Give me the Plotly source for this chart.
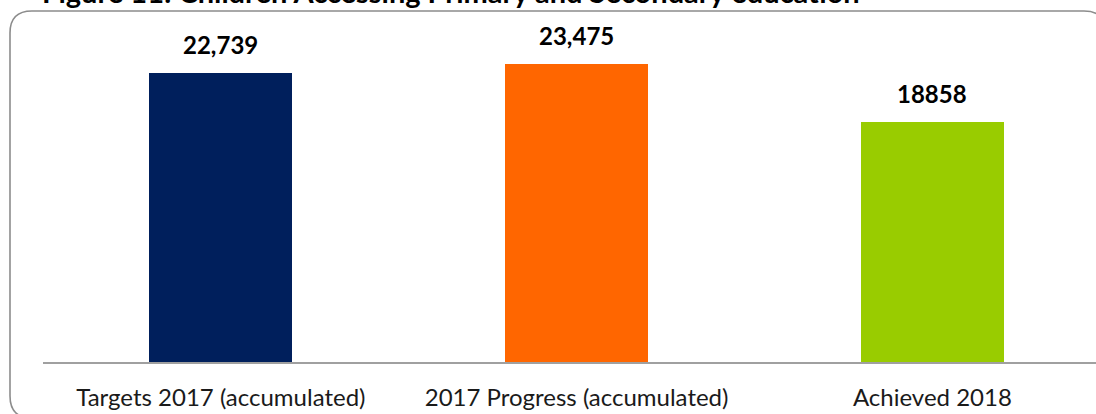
import plotly.graph_objects as go

categories = ["Targets 2017 (accumulated)", "2017 Progress (accumulated)", "Achieved 2018"]
values = [22739, 23475, 18858]
value_labels = ["22,739", "23,475", "18858"]
colors = ["#001F5C", "#FF6600", "#99CC00"]
title_text = "Figure 11: Children Accessing Primary and Secondary education"

W, H = 1096, 414
ML, MR, MT, MB = 43, 0, 20, 52
PW, PH = W - ML - MR, H - MT - MB

def px(x):
    return (x - ML) / PW

def py(y):
    return 1 - (y - MT) / PH

fig = go.Figure()
fig.add_trace(go.Bar(
    x=categories, y=values, width=0.402,
    marker=dict(color=colors, line=dict(width=0)),
    hoverinfo="skip",
))

for c, v, t in zip(categories, values, value_labels):
    fig.add_annotation(x=c, y=v, text=t, showarrow=False, yanchor="bottom",
                       yshift=12,
                       font=dict(family="Lato", size=24, color="#000000", weight="bold"))

# rounded border frame (pixel geometry converted to paper coords)
x0, y0, x1, y1, r = 10, 11, 1106, 418, 22
path = (
    f"M {px(x0+r)},{py(y0)} L {px(x1-r)},{py(y0)} "
    f"Q {px(x1)},{py(y0)} {px(x1)},{py(y0+r)} "
    f"L {px(x1)},{py(y1-r)} Q {px(x1)},{py(y1)} {px(x1-r)},{py(y1)} "
    f"L {px(x0+r)},{py(y1)} Q {px(x0)},{py(y1)} {px(x0)},{py(y1-r)} "
    f"L {px(x0)},{py(y0+r)} Q {px(x0)},{py(y0)} {px(x0+r)},{py(y0)} Z"
)
fig.add_shape(type="path", path=path, xref="paper", yref="paper",
              line=dict(color="#8C8C8C", width=1.6), layer="below")

fig.add_annotation(text=title_text, xref="paper", yref="paper",
                   x=px(40), y=py(11), xanchor="left", yanchor="bottom",
                   showarrow=False,
                   font=dict(family="Lato", size=29, color="#000000", weight="bold"))

fig.update_layout(
    width=W, height=H,
    margin=dict(l=ML, r=MR, t=MT, b=MB),
    paper_bgcolor="white", plot_bgcolor="white",
    showlegend=False, bargap=0,
    xaxis=dict(range=[-0.5, 2.46], showline=True, linecolor="#A0A0A0", linewidth=2,
               showgrid=False, zeroline=False, ticks="", ticklabelstandoff=13,
               tickfont=dict(family="Lato", size=24, color="#1A1A1A")),
    yaxis=dict(range=[0, 26908], visible=False, showgrid=False, zeroline=False),
)

fig.write_html("out.html", config={"displayModeBar": False},
               post_script="document.body.style.margin='0';")
